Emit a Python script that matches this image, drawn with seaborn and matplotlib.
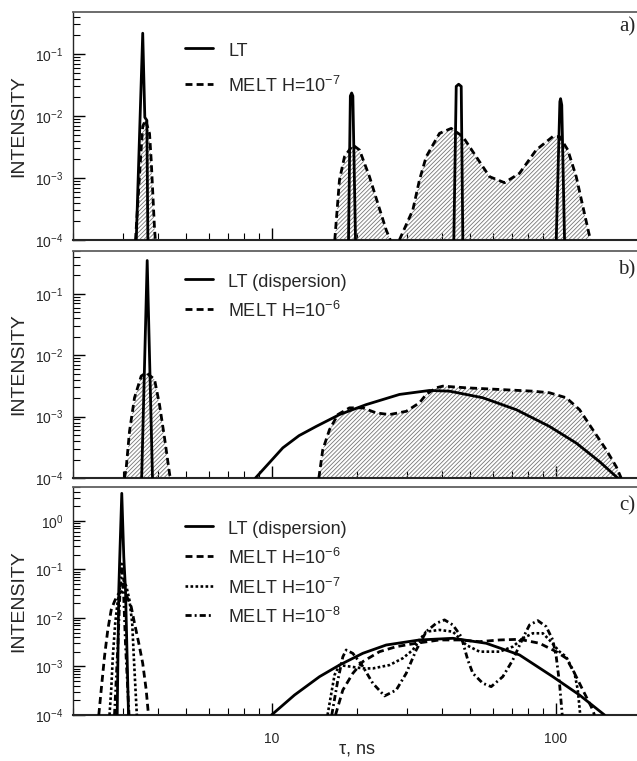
import numpy as np
import pandas as pd
import matplotlib
matplotlib.use("Agg")
import matplotlib.pyplot as plt
import seaborn as sns
from matplotlib.ticker import FixedLocator, LogLocator, NullFormatter, FuncFormatter

# ---------------- data ----------------
# panel a) -- LT: narrow peaks (segment ids separate the peaks)
a_lt_tau = [3.34, 3.52, 3.58, 3.64, 3.67,
            18.67, 18.95, 19.15, 19.34, 19.76,
            43.85, 44.71, 45.6, 46.56, 47.17,
            100.6, 103.6, 104.2, 105.2, 107.6]
a_lt_int = [1e-4, 0.216, 0.0095, 0.0085, 1e-4,
            1e-4, 0.021, 0.0235, 0.021, 1e-4,
            1e-4, 0.030, 0.0325, 0.030, 1e-4,
            1e-4, 0.017, 0.019, 0.015, 1e-4]
a_lt_seg = [0] * 5 + [1] * 5 + [2] * 5 + [3] * 5

# panel a) -- MELT H=1e-7
a_melt_tau = [3.32, 3.41, 3.48, 3.52, 3.60, 3.72, 3.77, 3.82, 3.87, 3.90,
              16.7, 17.35, 18.07, 19.34, 20.41, 22.13, 23.67, 25.34, 26.2,
              28.2, 31.45, 33.19, 35.05, 39.04, 42.93, 47.17, 52.58, 58.57, 66.14,
              74.68, 85.5, 97.8, 103.3, 110.5, 118.3, 124.8, 131.0, 132.8]
a_melt_int = [1e-4, 7.2e-4, 3.2e-3, 6.8e-3, 8.6e-3, 5.2e-3, 1.95e-3, 5.6e-4, 1.64e-4, 1e-4,
              1e-4, 9.3e-4, 2.2e-3, 3.4e-3, 2.83e-3, 1.05e-3, 3.9e-4, 1.45e-4, 1e-4,
              1e-4, 3.05e-4, 9.3e-4, 2.2e-3, 5.25e-3, 6.3e-3, 4.65e-3, 2.2e-3, 1.05e-3, 8.4e-4,
              1.19e-3, 2.83e-3, 4.65e-3, 4.65e-3, 2.83e-3, 1.05e-3, 3.5e-4, 1.3e-4, 1e-4]
a_melt_seg = [0] * 10 + [1] * 9 + [2] * 19

# panel b) -- LT (dispersion)
b_lt_tau = [3.49, 3.65, 3.81,
            8.78, 9.8, 10.96, 12.5, 14.37, 17.35, 21.55, 28.23, 36.0, 42.35, 55.46, 72.7,
            95.2, 118.3, 142.9, 163.6, 165.8]
b_lt_int = [1e-4, 0.35, 1e-4,
            1e-4, 1.75e-4, 3.1e-4, 4.9e-4, 6.93e-4, 1.08e-3, 1.57e-3, 2.30e-3, 2.67e-3, 2.60e-3, 2.03e-3,
            1.30e-3, 6.93e-4, 3.71e-4, 1.85e-4, 1.05e-4, 1e-4]
b_lt_seg = [0] * 3 + [1] * 17

# panel b) -- MELT H=1e-6
b_melt_tau = [3.037, 3.078, 3.162, 3.293, 3.477, 3.621, 3.873, 4.033, 4.200, 4.348, 4.398,
              14.68, 15.15, 16.0, 17.12, 18.82, 20.97, 23.37, 26.03, 29.81, 33.19, 35.05,
              38.02, 40.11, 48.5, 63.5, 83.2, 95.2, 109.1, 121.5, 135.3, 150.9, 163.6, 170.3]
b_melt_int = [1e-4, 1.44e-4, 5.74e-4, 2.03e-3, 4.58e-3, 5.2e-3, 4.05e-3, 1.57e-3, 4.53e-4, 1.44e-4, 1e-4,
              1e-4, 2.88e-4, 6.12e-4, 1.08e-3, 1.39e-3, 1.39e-3, 1.15e-3, 1.08e-3, 1.22e-3, 1.68e-3, 2.30e-3,
              2.95e-3, 3.14e-3, 2.95e-3, 2.77e-3, 2.60e-3, 2.45e-3, 2.03e-3, 1.30e-3, 6.12e-4, 2.88e-4, 1.53e-4, 1e-4]
b_melt_seg = [0] * 11 + [1] * 23

# panel c) -- LT (dispersion)
c_lt_tau = [2.862, 2.899, 2.922, 2.970, 3.019, 3.061, 3.137,
            10.0, 12.05, 14.76, 17.35, 20.97, 25.34, 33.19, 43.5, 57.0, 74.68, 97.8, 121.5, 148.8]
c_lt_int = [1e-4, 0.038, 0.18, 3.7, 0.18, 0.038, 1e-4,
            1e-4, 2.58e-4, 6.17e-4, 1.07e-3, 1.87e-3, 2.77e-3, 3.52e-3, 3.81e-3, 3.01e-3, 1.73e-3,
            6.17e-4, 2.58e-4, 1e-4]
c_lt_seg = [0] * 7 + [1] * 13

# panel c) -- MELT H=1e-6 (dashed)
c_m6_tau = [2.465, 2.514, 2.582, 2.652, 2.726, 2.80, 2.876, 2.96, 3.078, 3.206, 3.293, 3.41, 3.52, 3.62, 3.688,
            16.8, 17.83, 19.34, 20.97, 24.01, 27.49, 32.33, 39.04, 45.92, 54.01, 63.5, 74.68, 87.85,
            100.6, 109.1, 116.7, 124.8, 133.6, 137.2]
c_m6_int = [1e-4, 3.3e-4, 1.6e-3, 5.7e-3, 0.0146, 0.022, 0.030, 0.035, 0.030, 0.017, 7.8e-3, 3.0e-3, 1.16e-3, 3.3e-4, 1e-4,
            1e-4, 3.27e-4, 7.24e-4, 1.26e-3, 2.02e-3, 2.56e-3, 3.01e-3, 3.52e-3, 3.52e-3, 3.25e-3, 3.52e-3,
            3.63e-3, 3.01e-3, 2.02e-3, 1.48e-3, 7.24e-4, 3.27e-4, 1.48e-4, 1e-4]
c_m6_seg = [0] * 15 + [1] * 19

# panel c) -- MELT H=1e-7 (dotted)
c_m7_tau = [2.689, 2.726, 2.762, 2.816, 2.876, 2.933, 3.012, 3.086, 3.162, 3.232, 3.274, 3.32, 3.356,
            15.75, 16.67, 17.35, 18.82, 20.97, 22.73, 26.03, 29.0, 31.45, 33.19, 35.05, 39.04, 43.5,
            45.92, 48.5, 54.01, 63.5, 70.72, 76.7, 83.2, 90.23, 95.2, 103.3, 109.1, 116.7, 119.8, 122.2]
c_m7_int = [1e-4, 3.3e-4, 1.6e-3, 7.8e-3, 0.023, 0.044, 0.06, 0.044, 0.023, 7.8e-3, 1.6e-3, 3.3e-4, 1e-4,
            1e-4, 6.68e-4, 1.07e-3, 1.0e-3, 9.12e-4, 9.12e-4, 1.07e-3, 1.48e-3, 2.19e-3, 3.52e-3, 5.22e-3,
            5.66e-3, 5.22e-3, 3.81e-3, 2.77e-3, 2.02e-3, 2.02e-3, 2.56e-3, 3.81e-3, 4.83e-3, 4.83e-3,
            3.52e-3, 2.02e-3, 1.58e-3, 7.24e-4, 3.27e-4, 1e-4]
c_m7_seg = [0] * 13 + [1] * 27

# panel c) -- MELT H=1e-8 (dash-dot)
c_m8_tau = [2.80, 2.88, 2.93, 2.97, 3.01, 3.06, 3.15,
            16.3, 17.1, 17.83, 18.32, 19.34, 20.97, 22.73, 25.0, 27.49, 29.81, 32.33, 35.05, 38.02,
            40.67, 43.5, 46.56, 49.12, 51.15, 55.46, 59.37, 65.23, 70.72, 76.7, 81.0, 86.64, 92.75,
            97.8, 100.6, 103.3, 105.6]
c_m8_int = [1e-4, 3e-3, 0.04, 0.13, 0.04, 3e-3, 1e-4,
            1e-4, 5.0e-4, 1.58e-3, 2.19e-3, 1.86e-3, 1.0e-3, 4.51e-4, 2.47e-4, 3.27e-4, 7.24e-4, 2.19e-3,
            5.22e-3, 7.78e-3, 9.12e-3, 7.18e-3, 4.12e-3, 1.36e-3, 7.24e-4, 4.51e-4, 3.84e-4, 6.17e-4,
            1.36e-3, 3.81e-3, 7.18e-3, 8.81e-3, 6.62e-3, 3.52e-3, 1.58e-3, 4.51e-4, 1e-4]
c_m8_seg = [0] * 7 + [1] * 30

panel_ytop = {"a": 0.475, "b": 0.5, "c": 5.0}
panel_letters = ["a)", "b)", "c)"]
x_ticks = [10, 100]
x_ticklabels = ["10", "100"]

# ---------------- style ----------------
sns.set_style("ticks")
plt.rcParams["font.family"] = ["Liberation Sans", "DejaVu Sans"]
plt.rcParams["mathtext.fontset"] = "custom"
plt.rcParams["mathtext.rm"] = "Liberation Sans"
plt.rcParams["mathtext.it"] = "Liberation Sans:italic"
plt.rcParams["mathtext.bf"] = "Liberation Sans:bold"
plt.rcParams["mathtext.default"] = "regular"
plt.rcParams["hatch.linewidth"] = 0.6
plt.rcParams["hatch.color"] = "#777777"

DASH = (0, (2.5, 1.5))
DOT = (0, (1.0, 0.9))
DASHDOT = (0, (2.2, 1.1, 0.7, 1.1))
LW = 2.0

fig = plt.figure(figsize=(6.37, 7.61), dpi=100)
L = 73 / 637
W = (641 - 73) / 637
ax_a = fig.add_axes([L, 1 - 240 / 761, W, 228 / 761])
ax_b = fig.add_axes([L, 1 - 478 / 761, W, 227 / 761])
ax_c = fig.add_axes([L, 1 - 715 / 761, W, 228 / 761])
axes = [ax_a, ax_b, ax_c]


def frame(tau, val, seg):
    return pd.DataFrame({"tau": tau, "I": val, "seg": seg})


def draw(ax, df, ls, lw=LW):
    n = len(ax.lines)
    sns.lineplot(data=df, x="tau", y="I", units="seg", estimator=None, sort=False,
                 color="black", linewidth=lw, linestyle=ls, legend=False, ax=ax, zorder=3)
    return ax.lines[n]


def hatch(ax, df):
    for _, g in df.groupby("seg"):
        ax.fill_between(g["tau"], g["I"], 1e-4, facecolor="none", edgecolor="#777777",
                        hatch="////////", linewidth=0, zorder=1)


for ax, key in zip(axes, ["a", "b", "c"]):
    ax.set_xscale("log")
    ax.set_yscale("log")
    ax.set_xlim(2, 200)
    ax.set_ylim(1e-4, panel_ytop[key])

# panel a
df = frame(a_melt_tau, a_melt_int, a_melt_seg)
hatch(ax_a, df)
h_a2 = draw(ax_a, df, DASH)
h_a1 = draw(ax_a, frame(a_lt_tau, a_lt_int, a_lt_seg), "-")

# panel b
df = frame(b_melt_tau, b_melt_int, b_melt_seg)
hatch(ax_b, df)
h_b2 = draw(ax_b, df, DASH)
h_b1 = draw(ax_b, frame(b_lt_tau, b_lt_int, b_lt_seg), "-")

# panel c
h_c2 = draw(ax_c, frame(c_m6_tau, c_m6_int, c_m6_seg), DASH)
h_c3 = draw(ax_c, frame(c_m7_tau, c_m7_int, c_m7_seg), DOT, 1.9)
h_c4 = draw(ax_c, frame(c_m8_tau, c_m8_int, c_m8_seg), DASHDOT)
h_c1 = draw(ax_c, frame(c_lt_tau, c_lt_int, c_lt_seg), "-")

yfmt = FuncFormatter(lambda v, p: r"10$^{%d}$" % int(round(np.log10(v))))
for ax in axes:
    ax.xaxis.set_major_locator(FixedLocator(x_ticks))
    ax.xaxis.set_major_formatter(FuncFormatter(lambda v, p: x_ticklabels[x_ticks.index(int(round(v)))] if int(round(v)) in x_ticks else ""))
    ax.xaxis.set_minor_locator(LogLocator(base=10, subs=np.arange(2, 10), numticks=20))
    ax.xaxis.set_minor_formatter(NullFormatter())
    ax.yaxis.set_major_locator(LogLocator(base=10, numticks=20))
    ax.yaxis.set_minor_locator(LogLocator(base=10, subs=np.arange(2, 10), numticks=20))
    ax.yaxis.set_major_formatter(yfmt)
    ax.yaxis.set_minor_formatter(NullFormatter())
    ax.tick_params(which="both", direction="in", top=False, right=False, color="black")
    ax.tick_params(which="major", length=8.5, width=1.0)
    ax.tick_params(which="minor", length=5, width=0.8)
    ax.tick_params(axis="y", which="major", labelsize=10, pad=7)
    ax.tick_params(axis="x", which="major", labelsize=10, pad=12)
    ax.spines["right"].set_visible(False)
    ax.spines["top"].set_color("#606060")
    ax.spines["top"].set_linewidth(1.3)
    ax.spines["left"].set_linewidth(1.0)
    ax.spines["bottom"].set_linewidth(1.5)
    ax.set_ylabel("INTENSITY", fontsize=14)
    ax.yaxis.set_label_coords(-0.081, 0.5)
    ax.set_xlabel("")

ax_a.tick_params(labelbottom=False)
ax_b.tick_params(labelbottom=False)
ax_c.set_xlabel("\u03c4, ns", fontsize=13)
ax_c.xaxis.set_label_coords(0.5, -0.112)

leg_kw = dict(loc="upper left", bbox_transform=fig.transFigure, frameon=False, fontsize=13,
              borderpad=0, borderaxespad=0, handlelength=1.55, handletextpad=0.85,
              handleheight=1.3)
ax_a.legend([h_a1, h_a2], ["LT", "MELT H=10$^{-7}$"], bbox_to_anchor=(185 / 637, 1 - 40 / 761),
            labelspacing=0.86, **leg_kw)
ax_b.legend([h_b1, h_b2], ["LT (dispersion)", "MELT H=10$^{-6}$"],
            bbox_to_anchor=(185 / 637, 1 - 271 / 761), labelspacing=0.53, **leg_kw)
ax_c.legend([h_c1, h_c2, h_c3, h_c4],
            ["LT (dispersion)", "MELT H=10$^{-6}$", "MELT H=10$^{-7}$", "MELT H=10$^{-8}$"],
            bbox_to_anchor=(185 / 637, 1 - 518 / 761), labelspacing=0.54, **leg_kw)

serif = ["Liberation Serif", "DejaVu Serif"]
for lab, yc in zip(panel_letters, [27, 270, 506]):
    fig.text(635 / 637, 1 - yc / 761, lab, ha="right", va="center", fontsize=15, family=serif)

fig.savefig("out.png", dpi=100)
